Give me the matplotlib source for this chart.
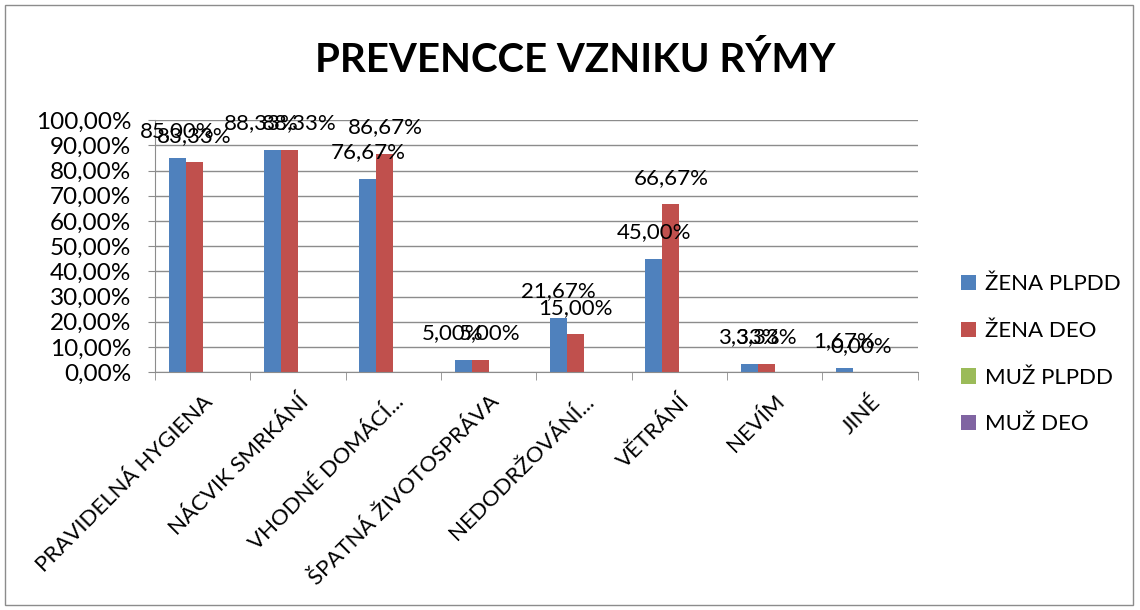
import numpy as np
import matplotlib
matplotlib.use('Agg')
import matplotlib.pyplot as plt
from matplotlib.patches import Rectangle

plt.rcParams['font.family'] = ['Lato', 'DejaVu Sans']

categories = ['PRAVIDELNÁ HYGIENA', 'NÁCVIK SMRKÁNÍ', 'VHODNÉ DOMÁCÍ...',
              'ŠPATNÁ ŽIVOTOSPRÁVA', 'NEDODRŽOVÁNÍ...', 'VĚTRÁNÍ', 'NEVÍM', 'JINÉ']
zena_plpdd = [85.00, 88.33, 76.67, 5.00, 21.67, 45.00, 3.33, 1.67]
zena_deo = [83.33, 88.33, 86.67, 5.00, 15.00, 66.67, 3.33, 0.00]
muz_plpdd = [None] * 8
muz_deo = [None] * 8

series = [('ŽENA PLPDD', zena_plpdd, '#4F81BD'),
          ('ŽENA DEO', zena_deo, '#C0504D'),
          ('MUŽ PLPDD', muz_plpdd, '#9BBB59'),
          ('MUŽ DEO', muz_deo, '#8064A2')]

fig = plt.figure(figsize=(11.4, 6.1), dpi=100)
ax = fig.add_axes([0.136, 0.390, 0.669, 0.413])

x = np.arange(len(categories))
gap = 1.62
w = 1 / (len(series) + gap)
for i, (name, vals, col) in enumerate(series):
    pos = x - 0.5 + gap / 2 * w + (i + 0.5) * w
    h = [np.nan if v is None else v for v in vals]
    ax.bar(pos, h, width=w, color=col, label=name)
    for j, (p, v) in enumerate(zip(pos, vals)):
        if v is None:
            continue
        # Excel pushes apart labels of equal-height bars a little
        dx = 0
        if abs(zena_plpdd[j] - zena_deo[j]) < 0.5 and zena_plpdd[j] > 4:
            dx = -8 if i == 0 else 7
        ax.annotate(f'{v:.2f}%'.replace('.', ','), (p, v), xytext=(dx, 19),
                    textcoords='offset points', ha='center', va='center',
                    fontsize=16)

ax.set_xlim(-0.5, len(categories) - 0.5)
ax.set_ylim(0, 100)
ax.set_yticks(np.arange(0, 101, 10))
ax.set_yticklabels([f'{t:.2f}%'.replace('.', ',') for t in range(0, 101, 10)], fontsize=17.5)
ax.yaxis.grid(True, color='#8c8c8c', linewidth=1)
ax.set_axisbelow(True)
ax.tick_params(axis='y', length=5, color='#8c8c8c', pad=12)

ax.set_xticks(x)
ax.set_xticklabels(categories, rotation=45, ha='right', rotation_mode='anchor', fontsize=16)
ax.tick_params(axis='x', which='major', length=0, pad=14)
ax.set_xticks(np.arange(-0.5, len(categories)), minor=True)
ax.tick_params(axis='x', which='minor', length=6, color='#8c8c8c')

for s in ['top', 'right']:
    ax.spines[s].set_visible(False)
for s in ['left', 'bottom']:
    ax.spines[s].set_color('#8c8c8c')

fig.text(0.505, 0.9, 'PREVENCCE VZNIKU RÝMY', ha='center', va='center',
         fontsize=29, fontweight='bold')

ax.legend(loc='center left', bbox_to_anchor=(1.03, 0.07), frameon=False, fontsize=16,
          handlelength=0.7, handleheight=0.7, labelspacing=1.2, handletextpad=0.4)

fig.patches.append(Rectangle((0.004, 0.008), 0.99, 0.984, transform=fig.transFigure,
                             fill=False, edgecolor='#8c8c8c', linewidth=1))

fig.savefig('out.png', dpi=100)
